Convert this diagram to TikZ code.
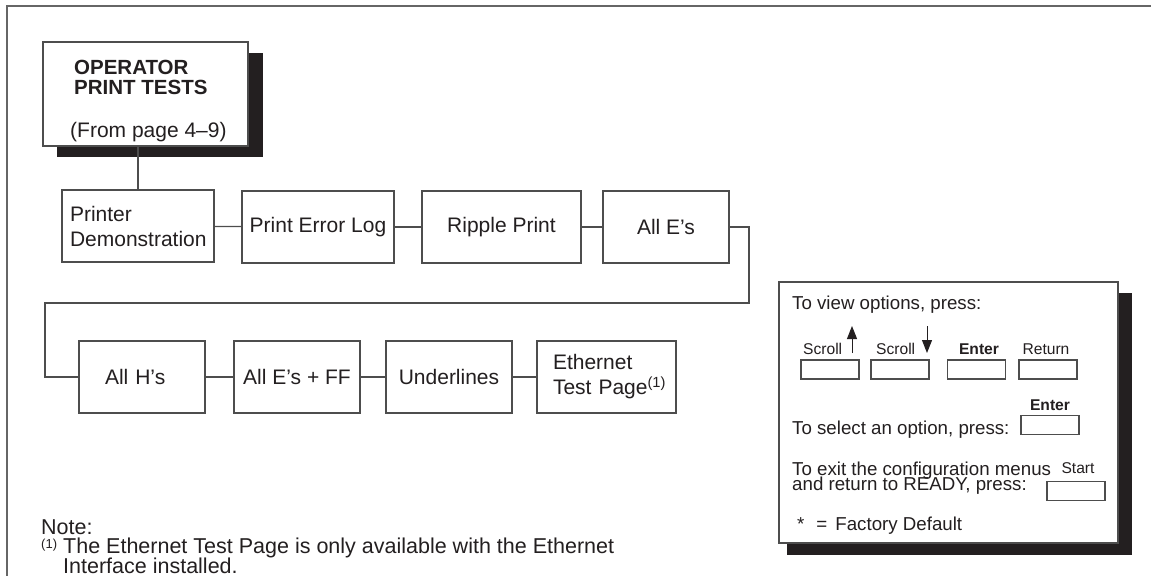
\documentclass[tikz,border=0pt]{standalone}
\usepackage{fontspec}
\setmainfont{Liberation Sans}
\usetikzlibrary{arrows.meta}
\definecolor{ink}{HTML}{231F20}
\definecolor{lines}{HTML}{4D4D4D}
\definecolor{frame}{HTML}{666666}
\begin{document}
\begin{tikzpicture}[x=1pt,y=-1pt,
  tbox/.style={draw=lines,line width=1.3pt,fill=white,minimum height=72pt,inner sep=0pt,align=center,text=ink,font=\fontsize{21}{25}\selectfont},
  key/.style={draw=lines,line width=1.1pt,fill=white,minimum width=58pt,minimum height=19pt,inner sep=0pt},
  lbl/.style={inner sep=0pt,text=ink,font=\fontsize{15.6}{18}\selectfont},
  ltxt/.style={inner sep=0pt,anchor=base west,text=ink,font=\fontsize{18.7}{15}\selectfont},
  ntxt/.style={inner sep=0pt,anchor=base west,text=ink,font=\fontsize{21.5}{19}\selectfont},
  conn/.style={draw=lines,line width=1.3pt},
  shadow/.style={fill=ink,draw=none}]
\useasboundingbox (0,0) rectangle (1151,576);
% frame
\draw[frame,line width=2pt] (1151,6) -- (7,6) -- (7,576);
% main box
\fill[shadow] (57,53) rectangle (263,157);
\node[draw=lines,line width=1.3pt,fill=white,minimum width=205pt,minimum height=104pt,inner sep=0pt] (main) at (145.5,94) {};
\node[anchor=north west,inner sep=0pt,text=ink,align=left,font=\fontsize{20.5}{20}\selectfont\bfseries] (maintitle) at (74,60) {OPERATOR\\PRINT TESTS};
\node[anchor=north west,inner sep=0pt,text=ink,font=\fontsize{21}{24}\selectfont] (mainsub) at (70,122) {(From page 4–9)};
% row 1
\node[tbox,minimum width=152pt,text width=136pt,align=left] (demo) at (138,226) {Printer\\Demonstration};
\node[tbox,minimum width=152pt] (errlog) at (318,227) {Print Error Log};
\node[tbox,minimum width=159pt] (ripple) at (501.5,227) {Ripple Print};
\node[tbox,minimum width=126pt] (alle) at (666,227) {All E’s};
% row 2
\node[tbox,minimum width=126pt,text width=126pt,align=left] (allh) at (142,377) {\hspace*{26pt}All H’s};
\node[tbox,minimum width=126pt] (alleff) at (297,377) {All E’s + FF};
\node[tbox,minimum width=126pt] (under) at (449,377) {Underlines};
\node[tbox,minimum width=139pt,text width=139pt,align=left] (eth) at (606.5,377) {\hspace*{16pt}Ethernet\\\hspace*{16pt}Test Page\textsuperscript{(1)}};
% connectors
\draw[conn] (demo.north) -- (demo.north |- main.south);
\draw[conn] (demo) -- (errlog);
\draw[conn] (errlog) -- (ripple);
\draw[conn] (ripple) -- (alle);
\coordinate (wr) at (749,303);
\coordinate (wl) at (45,303);
\draw[conn] (alle.east) -| (wr) -- (wl) |- (allh.west);
\draw[conn] (allh) -- (alleff);
\draw[conn] (alleff) -- (under);
\draw[conn] (under) -- (eth);
% legend
\fill[shadow] (787,293) rectangle (1132,555);
\node[draw=lines,line width=1.3pt,fill=white,minimum width=339pt,minimum height=261pt,inner sep=0pt] (legend) at (948.5,412.5) {};
\node[ltxt] (view) at (792,309) {To view options, press:};
\node[key] (b1) at (830,369.5) {};
\node[key] (b2) at (900,369.5) {};
\node[key] (b3) at (976.5,369.5) {};
\node[key] (b4) at (1048,369.5) {};
\node[lbl,anchor=base west] (s1) at (803,354) {Scroll};
\node[lbl,anchor=base west] (s2) at (876,354) {Scroll};
\node[lbl,anchor=base,font=\fontsize{15.6}{18}\selectfont\bfseries] (e1) at (979,354) {Enter};
\node[lbl,anchor=base] (r1) at (1046,354) {Return};
\coordinate (up1) at (852,353);
\coordinate (up2) at (852,326);
\coordinate (dn1) at (927,326);
\coordinate (dn2) at (927,353);
\draw[ink,line width=1pt,-{Triangle[length=13pt,width=10pt]}] (up1) -- (up2);
\draw[ink,line width=1pt,-{Triangle[length=13pt,width=10pt]}] (dn1) -- (dn2);
\node[ltxt] (sel) at (792,434) {To select an option, press:};
\node[key] (bsel) at (1050,425) {};
\node[lbl,anchor=base,font=\fontsize{15.6}{18}\selectfont\bfseries] (e2) at (1050,410) {Enter};
\node[ltxt] (exit1) at (792,475) {To exit the configuration menus};
\node[ltxt] (exit2) at (792,490) {and return to READY, press:};
\node[key] (bstart) at (1076,491) {};
\node[lbl,anchor=base] (st) at (1078,473) {Start};
\node[ltxt] (fd) at (797,530) {*\hspace{12pt}=\hspace{8pt}Factory Default};
% note
\node[ntxt] (note) at (41,534) {Note:};
\node[inner sep=0pt,anchor=base west,text=ink,font=\fontsize{13}{15}\selectfont] (fn) at (41,548) {(1)};
\node[ntxt] (note1) at (63,553.5) {The Ethernet Test Page is only available with the Ethernet};
\node[ntxt] (note2) at (63,573.5) {Interface installed.};
\end{tikzpicture}
\end{document}
